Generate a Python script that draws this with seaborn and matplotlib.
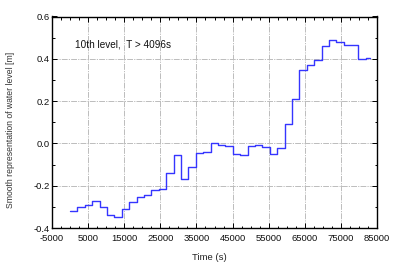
import matplotlib
matplotlib.use("Agg")
import matplotlib.pyplot as plt
import matplotlib.ticker as mticker
import numpy as np
import pandas as pd
import seaborn as sns

# ---- data ----
step_start_s = [0, 2048, 4096, 6144, 8192, 10240, 12288, 14336, 16384, 18432,
                20480, 22528, 24576, 26624, 28672, 30720, 32768, 34816, 36864, 38912,
                40960, 43008, 45056, 47104, 49152, 51200, 53248, 55296, 57344, 59392,
                61440, 63488, 65536, 67584, 69632, 71680, 73728, 75776, 77824, 79872,
                81920, 83000]
water_level = [-0.319, -0.302, -0.292, -0.272, -0.302, -0.338, -0.346, -0.310, -0.276, -0.255,
               -0.243, -0.222, -0.217, -0.138, -0.053, -0.167, -0.111, -0.045, -0.042, 0.003,
               -0.008, -0.011, -0.052, -0.057, -0.014, -0.008, -0.016, -0.050, -0.022, 0.090,
               0.208, 0.349, 0.370, 0.393, 0.461, 0.489, 0.478, 0.466, 0.466, 0.398,
               0.403, 0.403]
x_ticks = [-5000, 5000, 15000, 25000, 35000, 45000, 55000, 65000, 75000, 85000]
y_ticks = [-0.4, -0.2, 0.0, 0.2, 0.4, 0.6]
annotation = "10th level,  T > 4096s"
x_title = "Time (s)"
y_title = "Smooth representation of water level [m]"

df = pd.DataFrame({"t": step_start_s, "h": water_level})

sns.set_theme(style="white")
plt.rcParams["font.family"] = ["Liberation Sans Narrow", "Liberation Sans", "DejaVu Sans"]

fig = plt.figure(figsize=(4.03, 2.69), dpi=100)
fig.subplots_adjust(left=52/403, right=377/403, top=1-16.5/269, bottom=1-228/269)
ax = fig.add_subplot(111)

sns.lineplot(data=df, x="t", y="h", ax=ax, drawstyle="steps-post",
             color="#3535ff", linewidth=1.0, estimator=None, sort=False)

ax.set_xlim(-5000, 85000)
ax.set_ylim(-0.4, 0.6)
ax.set_xticks(x_ticks)
ax.set_xticklabels([str(v) for v in x_ticks])
ax.set_yticks(y_ticks)
ax.set_yticklabels([f"{v:.1f}" for v in y_ticks])
ax.xaxis.set_minor_locator(mticker.MultipleLocator(2500))
ax.yaxis.set_minor_locator(mticker.MultipleLocator(0.1))

ax.tick_params(which="both", direction="in", top=True, right=True,
               bottom=True, left=True, color="black", width=0.7)
ax.tick_params(which="major", length=3.5, labelsize=6.8, labelcolor="#111111")
ax.tick_params(which="minor", length=1.8)
ax.tick_params(axis="x", which="major", pad=4.2)
ax.tick_params(axis="y", which="major", pad=1.5)

for s in ax.spines.values():
    s.set_visible(True)
    s.set_color("black")
    s.set_linewidth(1.0)

ax.grid(True, which="major", color="#bcbcbc", linewidth=0.7,
        linestyle=(0, (6, 1.2, 1.2, 1.2)))
ax.set_axisbelow(True)

ax.set_xlabel(x_title, fontsize=6.8, color="#222222")
ax.set_ylabel(y_title, fontsize=6.2, color="#333333")
ax.xaxis.set_label_coords(0.485, -0.12)
ax.yaxis.set_label_coords(-0.114, 0.465)

ax.text(0.07, 0.867, annotation, transform=ax.transAxes, fontsize=7.2,
        va="center", ha="left", color="#111111")

fig.savefig("out.png", dpi=100, facecolor="white")
